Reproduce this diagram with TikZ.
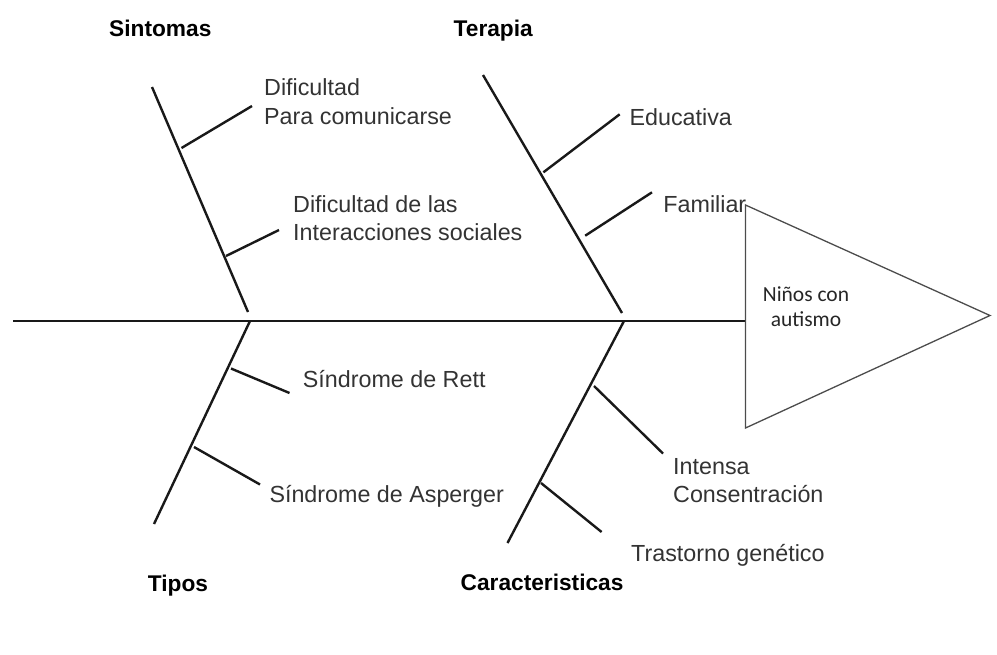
\documentclass[tikz,border=0pt]{standalone}
\usepackage{fontspec}
\setmainfont{Liberation Sans}
\newfontfamily\calfont{Carlito}
\begin{document}
\begin{tikzpicture}[x=1pt,y=-1pt,
  bone/.style={line width=2.4pt,black!90},
  lbl/.style={anchor=base west,inner sep=0pt,text=black!80,font=\fontsize{23.3}{28.6}\selectfont},
  head/.style={anchor=base west,inner sep=0pt,font=\fontsize{22.7}{27}\selectfont\bfseries},
  eff/.style={anchor=base,inner sep=0pt,text=black!85,font=\calfont\fontsize{21.5}{25}\selectfont}]
\useasboundingbox (0,0) rectangle (997,654);
% spine and head
\coordinate (s0) at (13,321);
\coordinate (t1) at (745.5,205);
\coordinate (t2) at (745.5,428);
\coordinate (t3) at (990,315.5);
\draw[bone] (s0) -- (745.5,321) coordinate (s1);
\draw[line width=1.3pt,black!70,line join=miter] (t1) -- (t3) -- (t2) -- cycle;
\node[eff] (eff1) at (806,301.7) {Niños con};
\node[eff] (eff2) at (806,326.7) {autismo};
% Sintomas
\coordinate (a0) at (152,87);
\coordinate (a1) at (248,312);
\draw[bone] (a0) -- (a1);
\coordinate (a2) at (181.5,148);
\coordinate (a3) at (252,106);
\draw[bone] (a2) -- (a3);
\coordinate (a4) at (226,256);
\coordinate (a5) at (279,230);
\draw[bone] (a4) -- (a5);
\node[head] (hs) at (109,36) {Sintomas};
\node[lbl] (la1) at (264,95.7) {Dificultad};
\node[lbl] (la2) at (264,124.3) {Para comunicarse};
\node[lbl] (la3) at (293,212.3) {Dificultad de las};
\node[lbl] (la4) at (293,240.7) {Interacciones sociales};
% Terapia
\coordinate (b0) at (483,75);
\coordinate (b1) at (622,313);
\draw[bone] (b0) -- (b1);
\coordinate (b2) at (543.4,172.3);
\coordinate (b3) at (619.7,114.3);
\draw[bone] (b2) -- (b3);
\coordinate (b4) at (585.2,235.7);
\coordinate (b5) at (652,192.3);
\draw[bone] (b4) -- (b5);
\node[head] (ht) at (453.5,36) {Terapia};
\node[lbl] (lb1) at (629.4,125) {Educativa};
\node[lbl] (lb2) at (663.2,212.7) {Familiar};
% Tipos
\coordinate (c0) at (250,321);
\coordinate (c1) at (154,524);
\draw[bone] (c0) -- (c1);
\coordinate (c2) at (231,368.5);
\coordinate (c3) at (289.5,393);
\draw[bone] (c2) -- (c3);
\coordinate (c4) at (194,447);
\coordinate (c5) at (260,484.5);
\draw[bone] (c4) -- (c5);
\node[head] (hp) at (147.7,591.7) {Tipos};
\node[lbl] (lc1) at (302.7,387.3) {Síndrome de Rett};
\node[lbl] (lc2) at (269.3,502.7) {Síndrome de Asperger};
% Caracteristicas
\coordinate (d0) at (624,321);
\coordinate (d1) at (507.5,543);
\draw[bone] (d0) -- (d1);
\coordinate (d2) at (594,386);
\coordinate (d3) at (663,453.5);
\draw[bone] (d2) -- (d3);
\coordinate (d4) at (541,483);
\coordinate (d5) at (601.6,532);
\draw[bone] (d4) -- (d5);
\node[head] (hc) at (460.5,590.7) {Caracteristicas};
\node[lbl] (ld1) at (673,474) {Intensa};
\node[lbl] (ld2) at (673,502.7) {Consentración};
\node[lbl] (ld3) at (631,561.7) {Trastorno genético};
\end{tikzpicture}
\end{document}
